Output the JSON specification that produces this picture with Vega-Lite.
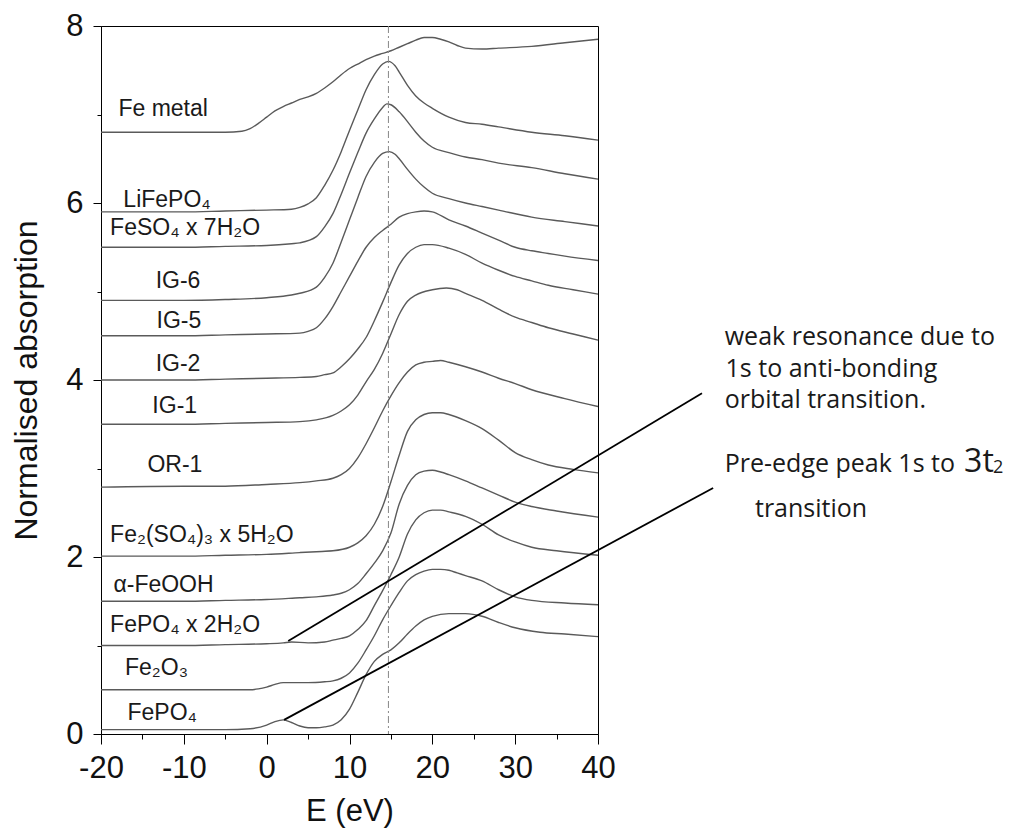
{
  "$schema": "https://vega.github.io/schema/vega-lite/v6.json",
  "width": 497,
  "height": 708,
  "autosize": {"type": "none"},
  "padding": {"left": 101, "top": 26, "right": 418, "bottom": 97},
  "background": "white",
  "config": {
    "view": {"stroke": "black", "strokeWidth": 1},
    "axis": {"grid": false, "domainColor": "black", "tickColor": "black", "labelColor": "#111", "titleColor": "#111", "labelFont": "Liberation Sans", "titleFont": "Liberation Sans", "titleFontWeight": "normal"}
  },
  "datasets": {
    "curves": [
      {"s":"Fe metal","e":-20,"a":6.80},{"s":"Fe metal","e":-10,"a":6.80},{"s":"Fe metal","e":-5,"a":6.80},{"s":"Fe metal","e":-3,"a":6.81},{"s":"Fe metal","e":-2,"a":6.84},{"s":"Fe metal","e":-1,"a":6.90},{"s":"Fe metal","e":0,"a":6.97},{"s":"Fe metal","e":1,"a":7.04},{"s":"Fe metal","e":2,"a":7.09},{"s":"Fe metal","e":3,"a":7.13},{"s":"Fe metal","e":4,"a":7.17},{"s":"Fe metal","e":5,"a":7.20},{"s":"Fe metal","e":6,"a":7.24},{"s":"Fe metal","e":7,"a":7.30},{"s":"Fe metal","e":8,"a":7.37},{"s":"Fe metal","e":9,"a":7.45},{"s":"Fe metal","e":10,"a":7.52},{"s":"Fe metal","e":11,"a":7.57},{"s":"Fe metal","e":12,"a":7.62},{"s":"Fe metal","e":13,"a":7.66},{"s":"Fe metal","e":14,"a":7.69},{"s":"Fe metal","e":15,"a":7.72},{"s":"Fe metal","e":16,"a":7.76},{"s":"Fe metal","e":17,"a":7.80},{"s":"Fe metal","e":18,"a":7.84},{"s":"Fe metal","e":19,"a":7.87},{"s":"Fe metal","e":20,"a":7.87},{"s":"Fe metal","e":21,"a":7.85},{"s":"Fe metal","e":22,"a":7.82},{"s":"Fe metal","e":23,"a":7.78},{"s":"Fe metal","e":24,"a":7.75},{"s":"Fe metal","e":26,"a":7.74},{"s":"Fe metal","e":28,"a":7.75},{"s":"Fe metal","e":32,"a":7.77},{"s":"Fe metal","e":36,"a":7.81},{"s":"Fe metal","e":40,"a":7.85},

      {"s":"LiFePO4","e":-20,"a":5.90},{"s":"LiFePO4","e":-10,"a":5.90},{"s":"LiFePO4","e":-5,"a":5.91},{"s":"LiFePO4","e":0,"a":5.92},{"s":"LiFePO4","e":3,"a":5.93},{"s":"LiFePO4","e":4,"a":5.95},{"s":"LiFePO4","e":5,"a":5.99},{"s":"LiFePO4","e":6,"a":6.06},{"s":"LiFePO4","e":7,"a":6.20},{"s":"LiFePO4","e":8,"a":6.37},{"s":"LiFePO4","e":9,"a":6.58},{"s":"LiFePO4","e":10,"a":6.82},{"s":"LiFePO4","e":11,"a":7.05},{"s":"LiFePO4","e":12,"a":7.28},{"s":"LiFePO4","e":13,"a":7.45},{"s":"LiFePO4","e":14,"a":7.57},{"s":"LiFePO4","e":14.7,"a":7.60},{"s":"LiFePO4","e":15.5,"a":7.55},{"s":"LiFePO4","e":16,"a":7.48},{"s":"LiFePO4","e":17,"a":7.33},{"s":"LiFePO4","e":18,"a":7.21},{"s":"LiFePO4","e":19,"a":7.13},{"s":"LiFePO4","e":20,"a":7.07},{"s":"LiFePO4","e":22,"a":6.97},{"s":"LiFePO4","e":24,"a":6.91},{"s":"LiFePO4","e":26,"a":6.89},{"s":"LiFePO4","e":28,"a":6.86},{"s":"LiFePO4","e":32,"a":6.80},{"s":"LiFePO4","e":36,"a":6.76},{"s":"LiFePO4","e":40,"a":6.71},

      {"s":"FeSO4","e":-20,"a":5.50},{"s":"FeSO4","e":-10,"a":5.50},{"s":"FeSO4","e":-5,"a":5.51},{"s":"FeSO4","e":0,"a":5.52},{"s":"FeSO4","e":3,"a":5.54},{"s":"FeSO4","e":4,"a":5.55},{"s":"FeSO4","e":6,"a":5.62},{"s":"FeSO4","e":7,"a":5.73},{"s":"FeSO4","e":8,"a":5.88},{"s":"FeSO4","e":9,"a":6.10},{"s":"FeSO4","e":10,"a":6.34},{"s":"FeSO4","e":11,"a":6.57},{"s":"FeSO4","e":12,"a":6.79},{"s":"FeSO4","e":13,"a":6.95},{"s":"FeSO4","e":14,"a":7.08},{"s":"FeSO4","e":14.5,"a":7.12},{"s":"FeSO4","e":15,"a":7.11},{"s":"FeSO4","e":16,"a":7.03},{"s":"FeSO4","e":17,"a":6.92},{"s":"FeSO4","e":18,"a":6.80},{"s":"FeSO4","e":19,"a":6.70},{"s":"FeSO4","e":20,"a":6.63},{"s":"FeSO4","e":22,"a":6.57},{"s":"FeSO4","e":24,"a":6.52},{"s":"FeSO4","e":26,"a":6.49},{"s":"FeSO4","e":28,"a":6.45},{"s":"FeSO4","e":32,"a":6.40},{"s":"FeSO4","e":36,"a":6.33},{"s":"FeSO4","e":40,"a":6.27},

      {"s":"IG-6","e":-20,"a":4.90},{"s":"IG-6","e":-10,"a":4.90},{"s":"IG-6","e":-5,"a":4.91},{"s":"IG-6","e":0,"a":4.93},{"s":"IG-6","e":3,"a":4.96},{"s":"IG-6","e":4,"a":4.98},{"s":"IG-6","e":6,"a":5.05},{"s":"IG-6","e":7,"a":5.16},{"s":"IG-6","e":8,"a":5.32},{"s":"IG-6","e":9,"a":5.56},{"s":"IG-6","e":10,"a":5.81},{"s":"IG-6","e":11,"a":6.06},{"s":"IG-6","e":12,"a":6.30},{"s":"IG-6","e":13,"a":6.46},{"s":"IG-6","e":14,"a":6.56},{"s":"IG-6","e":14.8,"a":6.58},{"s":"IG-6","e":15.5,"a":6.55},{"s":"IG-6","e":16,"a":6.50},{"s":"IG-6","e":17,"a":6.38},{"s":"IG-6","e":18,"a":6.27},{"s":"IG-6","e":19,"a":6.18},{"s":"IG-6","e":20,"a":6.11},{"s":"IG-6","e":22,"a":6.05},{"s":"IG-6","e":24,"a":6.00},{"s":"IG-6","e":26,"a":5.96},{"s":"IG-6","e":28,"a":5.92},{"s":"IG-6","e":32,"a":5.84},{"s":"IG-6","e":36,"a":5.79},{"s":"IG-6","e":40,"a":5.74},

      {"s":"IG-5","e":-20,"a":4.50},{"s":"IG-5","e":-10,"a":4.50},{"s":"IG-5","e":-5,"a":4.51},{"s":"IG-5","e":0,"a":4.52},{"s":"IG-5","e":4,"a":4.53},{"s":"IG-5","e":5,"a":4.55},{"s":"IG-5","e":6,"a":4.59},{"s":"IG-5","e":7,"a":4.69},{"s":"IG-5","e":8,"a":4.83},{"s":"IG-5","e":9,"a":5.00},{"s":"IG-5","e":10,"a":5.17},{"s":"IG-5","e":11,"a":5.34},{"s":"IG-5","e":12,"a":5.50},{"s":"IG-5","e":13,"a":5.61},{"s":"IG-5","e":14,"a":5.69},{"s":"IG-5","e":15,"a":5.76},{"s":"IG-5","e":16,"a":5.84},{"s":"IG-5","e":17,"a":5.88},{"s":"IG-5","e":18,"a":5.90},{"s":"IG-5","e":19,"a":5.91},{"s":"IG-5","e":20,"a":5.90},{"s":"IG-5","e":22,"a":5.81},{"s":"IG-5","e":24,"a":5.74},{"s":"IG-5","e":26,"a":5.66},{"s":"IG-5","e":28,"a":5.58},{"s":"IG-5","e":30,"a":5.50},{"s":"IG-5","e":32,"a":5.46},{"s":"IG-5","e":34,"a":5.43},{"s":"IG-5","e":36,"a":5.40},{"s":"IG-5","e":40,"a":5.35},

      {"s":"IG-2","e":-20,"a":4.00},{"s":"IG-2","e":-10,"a":4.00},{"s":"IG-2","e":-5,"a":4.01},{"s":"IG-2","e":0,"a":4.02},{"s":"IG-2","e":4,"a":4.03},{"s":"IG-2","e":6,"a":4.04},{"s":"IG-2","e":7,"a":4.06},{"s":"IG-2","e":8,"a":4.08},{"s":"IG-2","e":9,"a":4.15},{"s":"IG-2","e":10,"a":4.24},{"s":"IG-2","e":11,"a":4.35},{"s":"IG-2","e":12,"a":4.48},{"s":"IG-2","e":13,"a":4.67},{"s":"IG-2","e":14,"a":4.88},{"s":"IG-2","e":15,"a":5.10},{"s":"IG-2","e":16,"a":5.30},{"s":"IG-2","e":17,"a":5.43},{"s":"IG-2","e":18,"a":5.50},{"s":"IG-2","e":19,"a":5.53},{"s":"IG-2","e":20,"a":5.53},{"s":"IG-2","e":22,"a":5.49},{"s":"IG-2","e":24,"a":5.42},{"s":"IG-2","e":26,"a":5.32},{"s":"IG-2","e":28,"a":5.24},{"s":"IG-2","e":30,"a":5.17},{"s":"IG-2","e":32,"a":5.12},{"s":"IG-2","e":34,"a":5.07},{"s":"IG-2","e":37,"a":5.02},{"s":"IG-2","e":40,"a":4.97},

      {"s":"IG-1","e":-20,"a":3.50},{"s":"IG-1","e":-10,"a":3.50},{"s":"IG-1","e":-5,"a":3.51},{"s":"IG-1","e":0,"a":3.52},{"s":"IG-1","e":4,"a":3.53},{"s":"IG-1","e":6,"a":3.55},{"s":"IG-1","e":8,"a":3.60},{"s":"IG-1","e":9,"a":3.65},{"s":"IG-1","e":10,"a":3.72},{"s":"IG-1","e":11,"a":3.83},{"s":"IG-1","e":12,"a":3.98},{"s":"IG-1","e":13,"a":4.12},{"s":"IG-1","e":14,"a":4.30},{"s":"IG-1","e":15,"a":4.52},{"s":"IG-1","e":16,"a":4.74},{"s":"IG-1","e":17,"a":4.89},{"s":"IG-1","e":18,"a":4.96},{"s":"IG-1","e":20,"a":5.02},{"s":"IG-1","e":21.7,"a":5.04},{"s":"IG-1","e":23,"a":5.02},{"s":"IG-1","e":24,"a":4.98},{"s":"IG-1","e":26,"a":4.90},{"s":"IG-1","e":28,"a":4.80},{"s":"IG-1","e":30,"a":4.71},{"s":"IG-1","e":32,"a":4.65},{"s":"IG-1","e":34,"a":4.59},{"s":"IG-1","e":37,"a":4.52},{"s":"IG-1","e":40,"a":4.45},

      {"s":"OR-1","e":-20,"a":2.79},{"s":"OR-1","e":-10,"a":2.80},{"s":"OR-1","e":-5,"a":2.80},{"s":"OR-1","e":0,"a":2.82},{"s":"OR-1","e":4,"a":2.84},{"s":"OR-1","e":6,"a":2.86},{"s":"OR-1","e":8,"a":2.89},{"s":"OR-1","e":9,"a":2.93},{"s":"OR-1","e":10,"a":3.00},{"s":"OR-1","e":11,"a":3.12},{"s":"OR-1","e":12,"a":3.28},{"s":"OR-1","e":13,"a":3.46},{"s":"OR-1","e":14,"a":3.65},{"s":"OR-1","e":15,"a":3.82},{"s":"OR-1","e":16,"a":3.97},{"s":"OR-1","e":17,"a":4.09},{"s":"OR-1","e":18,"a":4.17},{"s":"OR-1","e":19,"a":4.20},{"s":"OR-1","e":20,"a":4.21},{"s":"OR-1","e":21,"a":4.22},{"s":"OR-1","e":22,"a":4.20},{"s":"OR-1","e":24,"a":4.15},{"s":"OR-1","e":26,"a":4.09},{"s":"OR-1","e":28,"a":4.02},{"s":"OR-1","e":30,"a":3.96},{"s":"OR-1","e":32,"a":3.89},{"s":"OR-1","e":36,"a":3.79},{"s":"OR-1","e":40,"a":3.70},

      {"s":"Fe2(SO4)3","e":-20,"a":2.01},{"s":"Fe2(SO4)3","e":-10,"a":2.01},{"s":"Fe2(SO4)3","e":-5,"a":2.02},{"s":"Fe2(SO4)3","e":0,"a":2.03},{"s":"Fe2(SO4)3","e":4,"a":2.05},{"s":"Fe2(SO4)3","e":6,"a":2.06},{"s":"Fe2(SO4)3","e":8,"a":2.07},{"s":"Fe2(SO4)3","e":10,"a":2.11},{"s":"Fe2(SO4)3","e":11,"a":2.16},{"s":"Fe2(SO4)3","e":12,"a":2.24},{"s":"Fe2(SO4)3","e":13,"a":2.37},{"s":"Fe2(SO4)3","e":14,"a":2.57},{"s":"Fe2(SO4)3","e":15,"a":2.85},{"s":"Fe2(SO4)3","e":16,"a":3.15},{"s":"Fe2(SO4)3","e":17,"a":3.42},{"s":"Fe2(SO4)3","e":18,"a":3.55},{"s":"Fe2(SO4)3","e":19,"a":3.61},{"s":"Fe2(SO4)3","e":20,"a":3.63},{"s":"Fe2(SO4)3","e":21,"a":3.63},{"s":"Fe2(SO4)3","e":22,"a":3.61},{"s":"Fe2(SO4)3","e":24,"a":3.54},{"s":"Fe2(SO4)3","e":26,"a":3.45},{"s":"Fe2(SO4)3","e":28,"a":3.32},{"s":"Fe2(SO4)3","e":30,"a":3.18},{"s":"Fe2(SO4)3","e":32,"a":3.10},{"s":"Fe2(SO4)3","e":34,"a":3.04},{"s":"Fe2(SO4)3","e":37,"a":2.99},{"s":"Fe2(SO4)3","e":40,"a":2.95},

      {"s":"FeOOH","e":-20,"a":1.50},{"s":"FeOOH","e":-10,"a":1.50},{"s":"FeOOH","e":-5,"a":1.51},{"s":"FeOOH","e":0,"a":1.52},{"s":"FeOOH","e":4,"a":1.54},{"s":"FeOOH","e":6,"a":1.55},{"s":"FeOOH","e":8,"a":1.57},{"s":"FeOOH","e":9,"a":1.59},{"s":"FeOOH","e":10,"a":1.63},{"s":"FeOOH","e":11,"a":1.70},{"s":"FeOOH","e":12,"a":1.81},{"s":"FeOOH","e":13,"a":1.93},{"s":"FeOOH","e":14,"a":2.07},{"s":"FeOOH","e":15,"a":2.27},{"s":"FeOOH","e":16,"a":2.60},{"s":"FeOOH","e":17,"a":2.81},{"s":"FeOOH","e":18,"a":2.93},{"s":"FeOOH","e":19,"a":2.97},{"s":"FeOOH","e":20,"a":2.98},{"s":"FeOOH","e":21,"a":2.96},{"s":"FeOOH","e":22,"a":2.93},{"s":"FeOOH","e":24,"a":2.86},{"s":"FeOOH","e":26,"a":2.78},{"s":"FeOOH","e":28,"a":2.70},{"s":"FeOOH","e":30,"a":2.62},{"s":"FeOOH","e":32,"a":2.57},{"s":"FeOOH","e":35,"a":2.52},{"s":"FeOOH","e":40,"a":2.45},

      {"s":"FePO4x2H2O","e":-20,"a":1.00},{"s":"FePO4x2H2O","e":-10,"a":1.00},{"s":"FePO4x2H2O","e":-5,"a":1.01},{"s":"FePO4x2H2O","e":0,"a":1.02},{"s":"FePO4x2H2O","e":2,"a":1.03},{"s":"FePO4x2H2O","e":3,"a":1.04},{"s":"FePO4x2H2O","e":5,"a":1.03},{"s":"FePO4x2H2O","e":7,"a":1.04},{"s":"FePO4x2H2O","e":8,"a":1.06},{"s":"FePO4x2H2O","e":9,"a":1.08},{"s":"FePO4x2H2O","e":10,"a":1.11},{"s":"FePO4x2H2O","e":11,"a":1.18},{"s":"FePO4x2H2O","e":12,"a":1.28},{"s":"FePO4x2H2O","e":13,"a":1.45},{"s":"FePO4x2H2O","e":14,"a":1.62},{"s":"FePO4x2H2O","e":15,"a":1.80},{"s":"FePO4x2H2O","e":16,"a":2.00},{"s":"FePO4x2H2O","e":17,"a":2.26},{"s":"FePO4x2H2O","e":18,"a":2.42},{"s":"FePO4x2H2O","e":19,"a":2.50},{"s":"FePO4x2H2O","e":20,"a":2.53},{"s":"FePO4x2H2O","e":21,"a":2.53},{"s":"FePO4x2H2O","e":22,"a":2.51},{"s":"FePO4x2H2O","e":24,"a":2.46},{"s":"FePO4x2H2O","e":26,"a":2.37},{"s":"FePO4x2H2O","e":28,"a":2.25},{"s":"FePO4x2H2O","e":30,"a":2.17},{"s":"FePO4x2H2O","e":32,"a":2.11},{"s":"FePO4x2H2O","e":35,"a":2.07},{"s":"FePO4x2H2O","e":40,"a":2.02},

      {"s":"Fe2O3","e":-20,"a":0.50},{"s":"Fe2O3","e":-10,"a":0.50},{"s":"Fe2O3","e":-5,"a":0.50},{"s":"Fe2O3","e":-2,"a":0.50},{"s":"Fe2O3","e":-1,"a":0.51},{"s":"Fe2O3","e":0,"a":0.53},{"s":"Fe2O3","e":1,"a":0.56},{"s":"Fe2O3","e":2,"a":0.58},{"s":"Fe2O3","e":3,"a":0.58},{"s":"Fe2O3","e":5,"a":0.58},{"s":"Fe2O3","e":7,"a":0.59},{"s":"Fe2O3","e":8,"a":0.60},{"s":"Fe2O3","e":9,"a":0.63},{"s":"Fe2O3","e":10,"a":0.69},{"s":"Fe2O3","e":11,"a":0.80},{"s":"Fe2O3","e":12,"a":0.95},{"s":"Fe2O3","e":13,"a":1.11},{"s":"Fe2O3","e":14,"a":1.29},{"s":"Fe2O3","e":15,"a":1.45},{"s":"Fe2O3","e":16,"a":1.60},{"s":"Fe2O3","e":17,"a":1.73},{"s":"Fe2O3","e":18,"a":1.80},{"s":"Fe2O3","e":19,"a":1.84},{"s":"Fe2O3","e":20,"a":1.86},{"s":"Fe2O3","e":21,"a":1.86},{"s":"Fe2O3","e":22,"a":1.85},{"s":"Fe2O3","e":23,"a":1.82},{"s":"Fe2O3","e":24,"a":1.79},{"s":"Fe2O3","e":26,"a":1.73},{"s":"Fe2O3","e":28,"a":1.63},{"s":"Fe2O3","e":30,"a":1.55},{"s":"Fe2O3","e":32,"a":1.51},{"s":"Fe2O3","e":36,"a":1.48},{"s":"Fe2O3","e":40,"a":1.46},

      {"s":"FePO4","e":-20,"a":0.05},{"s":"FePO4","e":-10,"a":0.05},{"s":"FePO4","e":-5,"a":0.05},{"s":"FePO4","e":-2,"a":0.06},{"s":"FePO4","e":0,"a":0.10},{"s":"FePO4","e":1,"a":0.14},{"s":"FePO4","e":2,"a":0.16},{"s":"FePO4","e":3,"a":0.13},{"s":"FePO4","e":4,"a":0.09},{"s":"FePO4","e":5,"a":0.07},{"s":"FePO4","e":6,"a":0.07},{"s":"FePO4","e":7,"a":0.08},{"s":"FePO4","e":8,"a":0.10},{"s":"FePO4","e":9,"a":0.16},{"s":"FePO4","e":10,"a":0.28},{"s":"FePO4","e":11,"a":0.47},{"s":"FePO4","e":12,"a":0.67},{"s":"FePO4","e":13,"a":0.82},{"s":"FePO4","e":14,"a":0.90},{"s":"FePO4","e":15,"a":0.95},{"s":"FePO4","e":16,"a":1.03},{"s":"FePO4","e":17,"a":1.13},{"s":"FePO4","e":18,"a":1.22},{"s":"FePO4","e":19,"a":1.29},{"s":"FePO4","e":20,"a":1.33},{"s":"FePO4","e":22,"a":1.36},{"s":"FePO4","e":24,"a":1.36},{"s":"FePO4","e":26,"a":1.33},{"s":"FePO4","e":28,"a":1.26},{"s":"FePO4","e":30,"a":1.20},{"s":"FePO4","e":33,"a":1.15},{"s":"FePO4","e":36,"a":1.13},{"s":"FePO4","e":40,"a":1.10}
    ],
    "labels": [
      {"t":"Fe metal","lx":-17.9,"ly":6.98},
      {"t":"LiFePO₄","lx":-17.3,"ly":5.96},
      {"t":"FeSO₄ x 7H₂O","lx":-18.9,"ly":5.64},
      {"t":"IG-6","lx":-13.4,"ly":5.04},
      {"t":"IG-5","lx":-13.3,"ly":4.59},
      {"t":"IG-2","lx":-13.4,"ly":4.10},
      {"t":"IG-1","lx":-13.8,"ly":3.63},
      {"t":"OR-1","lx":-14.4,"ly":2.96},
      {"t":"Fe₂(SO₄)₃ x 5H₂O","lx":-18.9,"ly":2.17},
      {"t":"α-FeOOH","lx":-18.5,"ly":1.60},
      {"t":"FePO₄ x 2H₂O","lx":-18.9,"ly":1.15},
      {"t":"Fe₂O₃","lx":-17.1,"ly":0.67},
      {"t":"FePO₄","lx":-16.8,"ly":0.16}
    ],
    "pointers": [
      {"x":2.6,"y":1.05,"x2":52.55,"y2":3.85},
      {"x":2.1,"y":0.16,"x2":53.9,"y2":2.78}
    ],
    "notes": [
      {"t":"weak resonance due to","nx":55.3,"ny":4.40},
      {"t":"1s to anti-bonding","nx":55.4,"ny":4.03},
      {"t":"orbital transition.","nx":55.3,"ny":3.68},
      {"t":"Pre-edge peak 1s to","nx":55.3,"ny":2.96},
      {"t":"transition","nx":58.95,"ny":2.45}
    ],
    "marker": [
      {"m":14.7}
    ],
    "big": [
      {"t":"3t","nx":84.2,"ny":2.96}
    ],
    "sub": [
      {"t":"2","nx":87.7,"ny":2.95}
    ]
  },
  "resolve": {"axis": {"x": "independent", "y": "independent"}},
  "layer": [
    {
      "data": {"name": "curves"},
      "mark": {"type": "line", "interpolate": "monotone", "color": "#5a5a5a", "strokeWidth": 1.4},
      "encoding": {
        "x": {"field": "e", "type": "quantitative", "scale": {"domain": [-20, 40], "nice": false, "zero": false},
              "axis": {"values": [-20, -10, 0, 10, 20, 30, 40], "tickSize": 10, "labelFontSize": 31, "labelPadding": 9, "labelExpr": "'' + datum.value", "title": "E (eV)", "titleFontSize": 31, "titlePadding": 13, "labelFlush": false}},
        "y": {"field": "a", "type": "quantitative", "scale": {"domain": [0, 8], "nice": false, "zero": false},
              "axis": {"values": [0, 2, 4, 6, 8], "tickSize": 8, "labelFontSize": 31, "labelPadding": 10, "labelExpr": "'' + datum.value", "title": "Normalised absorption", "titleFontSize": 32, "titlePadding": 22, "labelFlush": false}},
        "detail": {"field": "s"}
      }
    },
    {
      "data": {"name": "marker"},
      "mark": {"type": "rule", "color": "#888", "strokeWidth": 1, "strokeDash": [7, 3, 2, 3]},
      "encoding": {"x": {"field": "m", "type": "quantitative", "axis": null}}
    },
    {
      "data": {"name": "pointers"},
      "mark": {"type": "rule", "color": "black", "strokeWidth": 1.8},
      "encoding": {
        "x": {"field": "x", "type": "quantitative", "axis": {"orient": "bottom", "values": [-15, -5, 5, 15, 25, 35], "tickSize": 5, "labels": false, "domain": false, "title": null}},
        "y": {"field": "y", "type": "quantitative", "axis": {"orient": "left", "values": [1, 3, 5, 7], "tickSize": 4, "labels": false, "domain": false, "title": null}},
        "x2": {"field": "x2"},
        "y2": {"field": "y2"}
      }
    },
    {
      "data": {"name": "labels"},
      "mark": {"type": "text", "align": "left", "baseline": "alphabetic", "font": "Liberation Sans", "fontSize": 23, "color": "#1a1a1a"},
      "encoding": {
        "x": {"field": "lx", "type": "quantitative", "axis": null},
        "y": {"field": "ly", "type": "quantitative", "axis": null},
        "text": {"field": "t"}
      }
    },
    {
      "data": {"name": "notes"},
      "mark": {"type": "text", "align": "left", "baseline": "alphabetic", "font": "Open Sans", "fontSize": 25, "color": "#1a1a1a"},
      "encoding": {
        "x": {"field": "nx", "type": "quantitative", "axis": null},
        "y": {"field": "ny", "type": "quantitative", "axis": null},
        "text": {"field": "t"}
      }
    },
    {
      "data": {"name": "big"},
      "mark": {"type": "text", "align": "left", "baseline": "alphabetic", "font": "Open Sans", "fontSize": 32, "color": "#1a1a1a"},
      "encoding": {
        "x": {"field": "nx", "type": "quantitative", "axis": null},
        "y": {"field": "ny", "type": "quantitative", "axis": null},
        "text": {"field": "t"}
      }
    },
    {
      "data": {"name": "sub"},
      "mark": {"type": "text", "align": "left", "baseline": "alphabetic", "font": "Open Sans", "fontSize": 18, "color": "#1a1a1a"},
      "encoding": {
        "x": {"field": "nx", "type": "quantitative", "axis": null},
        "y": {"field": "ny", "type": "quantitative", "axis": null},
        "text": {"field": "t"}
      }
    }
  ]
}
